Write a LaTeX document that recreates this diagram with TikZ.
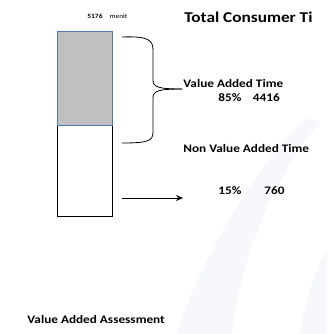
\documentclass[tikz,border=0pt]{standalone}
\usepackage{fontspec}
\setmainfont[FakeStretch=1.15]{Carlito}
\usetikzlibrary{arrows.meta}
\definecolor{barfill}{RGB}{192,192,192}
\definecolor{barline}{RGB}{84,122,178}
\definecolor{wmark}{RGB}{246,248,252}
\begin{document}
\begin{tikzpicture}[x=1pt, y=-1pt, line width=0.8pt,
    lbl/.style={font=\bfseries\fontsize{11.5}{13}\selectfont, inner sep=0pt, anchor=west},
    bar/.style={draw, minimum width=55pt, inner sep=0pt, anchor=north west}]
    \useasboundingbox (0,0) rectangle (327,334);
    % faint watermark in the background
    \fill[wmark] (176,334) .. controls (205,250) and (255,170) .. (305,118) -- (320,122) .. controls (272,180) and (240,260) .. (232,334) -- cycle;
    \fill[wmark] (300,334) .. controls (305,300) and (315,270) .. (327,250) -- (327,334) -- cycle;
    % the two parts of the bar
    \node[bar, minimum height=91pt] (nva) at (57,125) {};
    \node[bar, fill=barfill, draw=barline, line width=1.3pt, minimum height=94pt] (va) at (57,31) {};
    % labels
    \node[font=\bfseries\fontsize{6.5}{7}\selectfont, inner sep=0pt, anchor=west] (total) at (87,16) {5176\hspace{7pt}{\mdseries menit}};
    \node[lbl, font=\bfseries\fontsize{15}{17}\selectfont] (title) at (184,17) {Total Consumer Ti};
    \node[lbl] (vat) at (183,84) {Value Added Time};
    \node[lbl] (vapct) at (218,98) {85\%\quad 4416};
    \node[lbl] (nvat) at (183,149) {Non Value Added Time};
    \node[lbl] (nvapct) at (218,191) {15\%\qquad 760};
    \node[lbl] (assess) at (27,320) {Value Added Assessment};
    % brace and arrow
    \coordinate (bt) at (122,37); \coordinate (bm) at (182,89); \coordinate (bb) at (122,143);
    \draw (bt) .. controls (148,36) and (153,40) .. (153,50) -- (153,80) .. controls (153,87) and (158,89) .. (bm);
    \draw (bm) .. controls (158,89) and (153,91) .. (153,98) -- (153,132) .. controls (153,141) and (148,143) .. (bb);
    \coordinate (as) at (122,198); \coordinate (ae) at (183,198);
    \draw[-{Stealth[length=7pt, width=6pt]}] (as) -- (ae);
\end{tikzpicture}
\end{document}
